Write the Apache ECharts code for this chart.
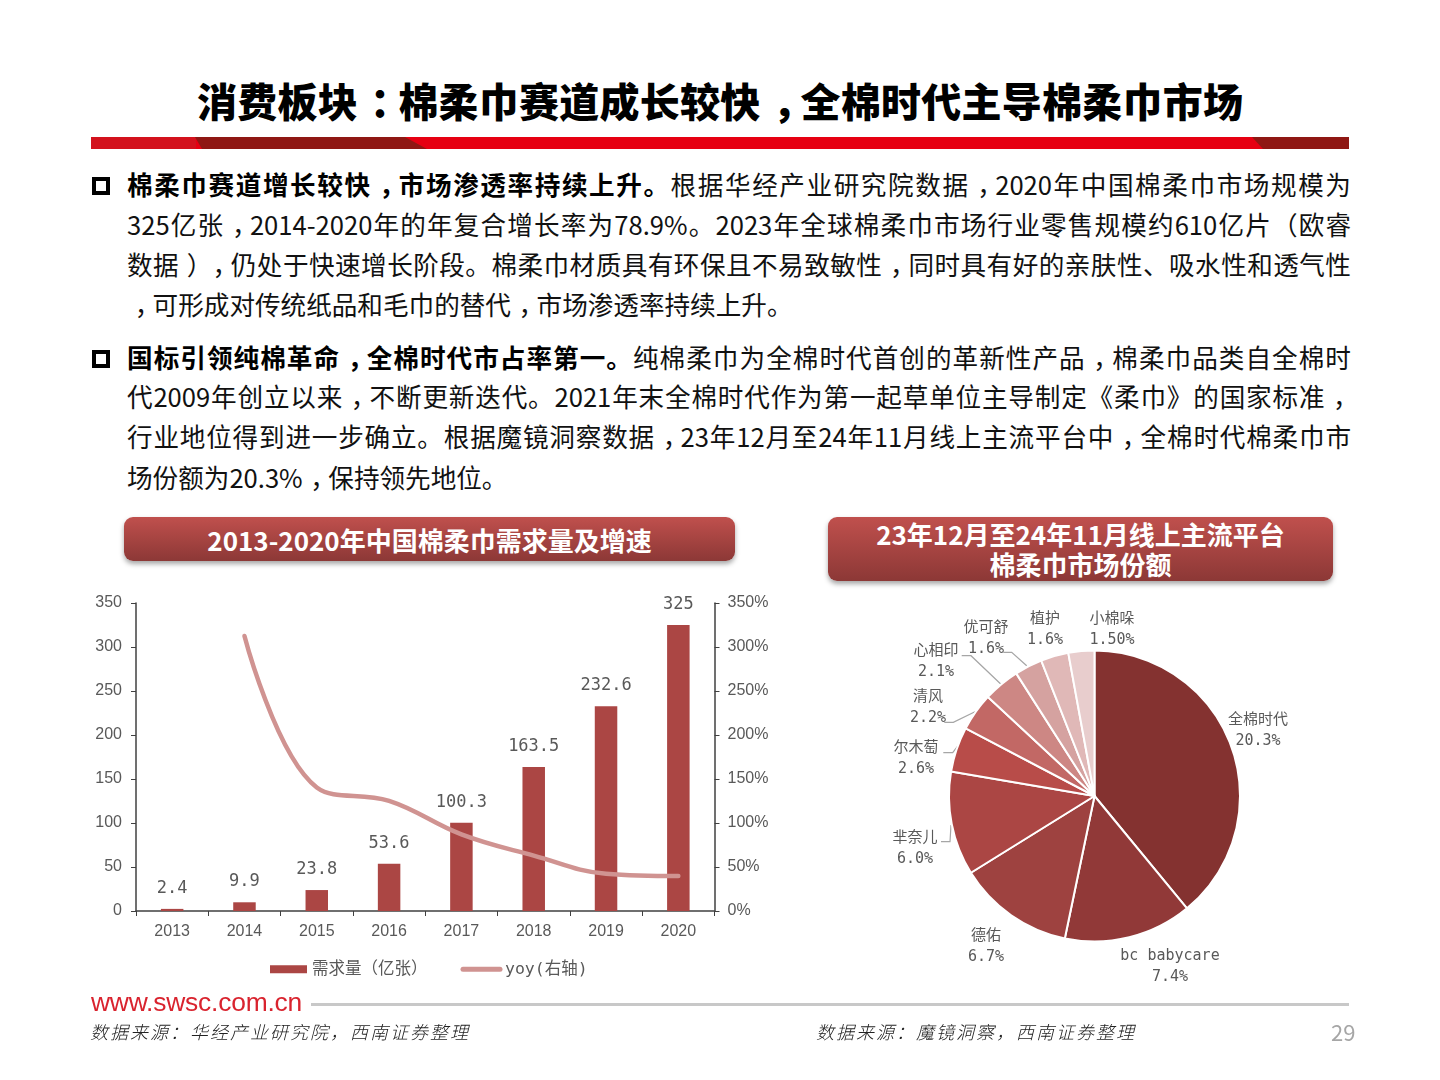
<!DOCTYPE html>
<html lang="zh-CN">
<head>
<meta charset="utf-8">
<title>棉柔巾市场</title>
<script src="https://cdn.jsdelivr.net/npm/echarts@6/dist/echarts.min.js"></script>
<style>
  html, body { margin: 0; padding: 0; background: #fff; }
  #page { position: relative; width: 1440px; height: 1080px; overflow: hidden; font-family: "Noto Sans CJK SC", sans-serif; color: #000; }
  #chart { position: absolute; left: 0; top: 0; width: 1440px; height: 1080px; }
  .abs { position: absolute; }
  .title { left: 197px; top: 71px; width: 1046px; height: 58px; line-height: 58px; font-size: 40px; font-weight: 900; text-align: justify; text-align-last: justify; }
  .line { left: 127px; width: 1224px; height: 40px; line-height: 40px; font-size: 25.6px; text-align: justify; text-align-last: justify; color: #111; }
  .line.last { text-align-last: left; }
  .line b { font-weight: 700; color: #000; }
  .p { display: inline-block; transform: translateX(.3em); }
  .bullet { left: 92px; width: 10px; height: 10px; border: 4px solid #000; }
  .pill { box-sizing: border-box; border-radius: 9px; background: linear-gradient(#c0504d, #8c3836); box-shadow: 0 3px 5px rgba(0,0,0,.35); color: #fff; font-weight: 700; font-size: 26px; text-align: center; }
  .src { top: 1018px; height: 26px; line-height: 26px; font-size: 18px; font-style: italic; letter-spacing: 2px; color: #222; white-space: nowrap; font-weight: 300; }
</style>
</head>
<body>
<div id="page">
  <div class="abs title" id="title"></div>
  <svg class="abs" style="left:91px;top:137px" width="1258" height="12">
    <rect x="0" y="0" width="1258" height="12" fill="#e60012"/>
    <rect x="0" y="0" width="105" height="12" fill="#d3121d"/>
    <polygon points="104,0 314,0 336,12 111,12" fill="#8f1713"/>
    <polygon points="1161,0 1258,0 1258,12 1172,12" fill="#8f1713"/>
  </svg>
  <div id="body"></div>
  <div class="abs pill" style="left:124px;top:517px;width:611px;height:44px;line-height:46px">2013-2020年中国棉柔巾需求量及增速</div>
  <div class="abs pill" style="left:828px;top:517px;width:505px;height:64px;line-height:30px;padding-top:2px">23年12月至24年11月线上主流平台<br>棉柔巾市场份额</div>
  <div id="chart"></div>
  <div class="abs" style="left:91px;top:987px;height:30px;line-height:30px;font-family:'Liberation Sans';font-size:26.4px;letter-spacing:-.2px;color:#d9232e">www.swsc.com.cn</div>
  <div class="abs" style="left:311px;top:1003px;width:1038px;height:3px;background:#c8c8c8"></div>
  <div class="abs src" style="left:90px">数据来源：华经产业研究院，西南证券整理</div>
  <div class="abs src" style="left:816px">数据来源：魔镜洞察，西南证券整理</div>
  <div class="abs" style="left:1331px;top:1016px;height:30px;line-height:30px;font-size:22px;color:#a6a6a6">29</div>
</div>
<script>
const years = ['2013', '2014', '2015', '2016', '2017', '2018', '2019', '2020'];
const demand = [2.4, 9.9, 23.8, 53.6, 100.3, 163.5, 232.6, 325];
const yoy = [null, 312.5, 140.4, 125.2, 87.1, 63, 42.3, 39.7];
const brands = ['全棉时代', 'bc babycare', '德佑', '芈奈儿', '尔木萄', '清风', '心相印', '优可舒', '植护', '小棉哚'];
const shares = [20.3, 7.4, 6.7, 6.0, 2.6, 2.2, 2.1, 1.6, 1.6, 1.5];
const shareText = ['20.3%', '7.4%', '6.7%', '6.0%', '2.6%', '2.2%', '2.1%', '1.6%', '1.6%', '1.50%'];
const sliceColors = ['#843230', '#913938', '#9e4240', '#ab4644', '#b84c49', '#c26865', '#cd8784', '#d5a2a0', '#e0b8b7', '#e8cdcd'];

const titleText = '消费板块：棉柔巾赛道成长较快，全棉时代主导棉柔巾市场';
const para1 = [
  ['棉柔巾赛道增长较快，市场渗透率持续上升。', '根据华经产业研究院数据，2020年中国棉柔巾市场规模为'],
  ['', '325亿张，2014-2020年的年复合增长率为78.9%。2023年全球棉柔巾市场行业零售规模约610亿片（欧睿'],
  ['', '数据），仍处于快速增长阶段。棉柔巾材质具有环保且不易致敏性，同时具有好的亲肤性、吸水性和透气性'],
  ['', '，可形成对传统纸品和毛巾的替代，市场渗透率持续上升。']
];
const para2 = [
  ['国标引领纯棉革命，全棉时代市占率第一。', '纯棉柔巾为全棉时代首创的革新性产品，棉柔巾品类自全棉时'],
  ['', '代2009年创立以来，不断更新迭代。2021年末全棉时代作为第一起草单位主导制定《柔巾》的国家标准，'],
  ['', '行业地位得到进一步确立。根据魔镜洞察数据，23年12月至24年11月线上主流平台中，全棉时代棉柔巾市'],
  ['', '场份额为20.3%，保持领先地位。']
];

// comma, colon and closing bracket sit in the middle of the cell in the original
function punct(s) {
  return s.replace(/[，：）]/g, m => '<span class="p">' + m + '</span>');
}

document.getElementById('title').innerHTML = punct(titleText);

function addPara(lines, tops) {
  const box = document.getElementById('body');
  lines.forEach((l, i) => {
    const d = document.createElement('div');
    d.className = 'abs line' + (i === lines.length - 1 ? ' last' : '');
    d.style.top = (tops[i] - 21.5) + 'px';
    d.innerHTML = (l[0] ? '<b>' + punct(l[0]) + '</b>' : '') + punct(l[1]);
    box.appendChild(d);
  });
  const b = document.createElement('div');
  b.className = 'abs bullet';
  b.style.top = (tops[0] - 8) + 'px';
  box.appendChild(b);
}
addPara(para1, [185, 225, 265, 305]);
addPara(para2, [358, 397, 437, 478]);

const grey = '#595959';
const axisDark = '#404040';
const lineColor = '#d09391';
const tickFont = { color: grey, fontFamily: '"Liberation Sans"', fontSize: 16 };
const monoFont = '"DejaVu Sans Mono", "Noto Sans CJK SC"';

// label centre and guide line of each slice, page pixels
const labelSpots = [
  { x: 1258, y: 731 },
  { x: 1170, y: 967 },
  { x: 986, y: 947 },
  { x: 915, y: 849, line: [[951, 825], [950, 841.7], [941, 841.7]] },
  { x: 916, y: 759, line: [[957.3, 746.7], [952.7, 752.7], [943.3, 752.7]] },
  { x: 928, y: 708, line: [[975, 711.7], [953.3, 722.3], [944.3, 722.3]] },
  { x: 936, y: 662, line: [[1000.7, 684], [971, 655.7], [961.7, 655.7]] },
  { x: 986, y: 639, line: [[1026.7, 665.7], [1011.7, 652.3], [1003.3, 652.3]] },
  { x: 1045, y: 630 },
  { x: 1112, y: 630 }
];

const pieData = brands.map((name, i) => ({
  name: name,
  value: shares[i],
  itemStyle: { color: sliceColors[i] },
  label: { formatter: name + '\n' + shareText[i] },
  labelLine: { show: !!labelSpots[i].line }
}));

const chart = echarts.init(document.getElementById('chart'));
chart.setOption({
  animation: false,
  backgroundColor: 'transparent',
  legend: {
    left: 270,
    top: 961,
    padding: 0,
    itemWidth: 37,
    itemHeight: 8,
    itemGap: 33,
    textStyle: { color: grey, fontSize: 16.5, fontFamily: monoFont },
    data: [
      { name: '需求量（亿张）', icon: 'rect' },
      { name: 'yoy(右轴)', lineStyle: { color: lineColor, width: 5 }, itemStyle: { opacity: 0 } }
    ]
  },
  grid: { left: 136, top: 603, width: 578.5, height: 308 },
  xAxis: {
    type: 'category',
    data: years,
    axisLine: { lineStyle: { color: axisDark, width: 1.5 } },
    axisTick: { show: true, length: 5, lineStyle: { color: axisDark }, inside: false },
    axisLabel: Object.assign({ margin: 13 }, tickFont),
    splitLine: { show: false }
  },
  yAxis: [
    {
      type: 'value', min: 0, max: 350, interval: 50,
      axisLine: { show: true, lineStyle: { color: axisDark, width: 1.5 } },
      axisTick: { show: true, length: 5, lineStyle: { color: axisDark } },
      axisLabel: Object.assign({ margin: 14, padding: [3, 0, 0, 0] }, tickFont),
      splitLine: { show: false }
    },
    {
      type: 'value', min: 0, max: 350, interval: 50, position: 'right',
      axisLine: { show: true, lineStyle: { color: axisDark, width: 1.5 } },
      axisTick: { show: true, length: 5, lineStyle: { color: axisDark } },
      axisLabel: Object.assign({ margin: 13, padding: [3, 0, 0, 0], formatter: '{value}%' }, tickFont),
      splitLine: { show: false }
    }
  ],
  series: [
    {
      name: '需求量（亿张）',
      type: 'bar',
      data: demand,
      barWidth: 22.5,
      itemStyle: { color: '#ab4644' },
      label: { show: true, position: 'top', distance: 12, color: grey, fontFamily: monoFont, fontSize: 17 }
    },
    {
      name: 'yoy(右轴)',
      type: 'line',
      yAxisIndex: 1,
      data: yoy,
      smooth: 0.4,
      showSymbol: false,
      symbol: 'none',
      lineStyle: { color: lineColor, width: 4.5, cap: 'round' },
      itemStyle: { color: lineColor },
      z: 5
    },
    {
      name: '市场份额',
      type: 'pie',
      center: [1094.5, 796],
      radius: [0, 145.5],
      startAngle: 90,
      avoidLabelOverlap: false,
      data: pieData,
      itemStyle: { borderColor: '#fff', borderWidth: 2 },
      label: { show: true, position: 'outside', color: grey, fontFamily: monoFont, fontSize: 15, lineHeight: 21, align: 'center' },
      labelLine: { show: true, lineStyle: { color: '#a6a6a6', width: 1.2 } },
      labelLayout: function (p) {
        const s = labelSpots[p.dataIndex];
        const out = { x: s.x, y: s.y, align: 'center', verticalAlign: 'middle' };
        if (s.line) out.labelLinePoints = s.line;
        return out;
      }
    }
  ]
});
</script>
</body>
</html>
